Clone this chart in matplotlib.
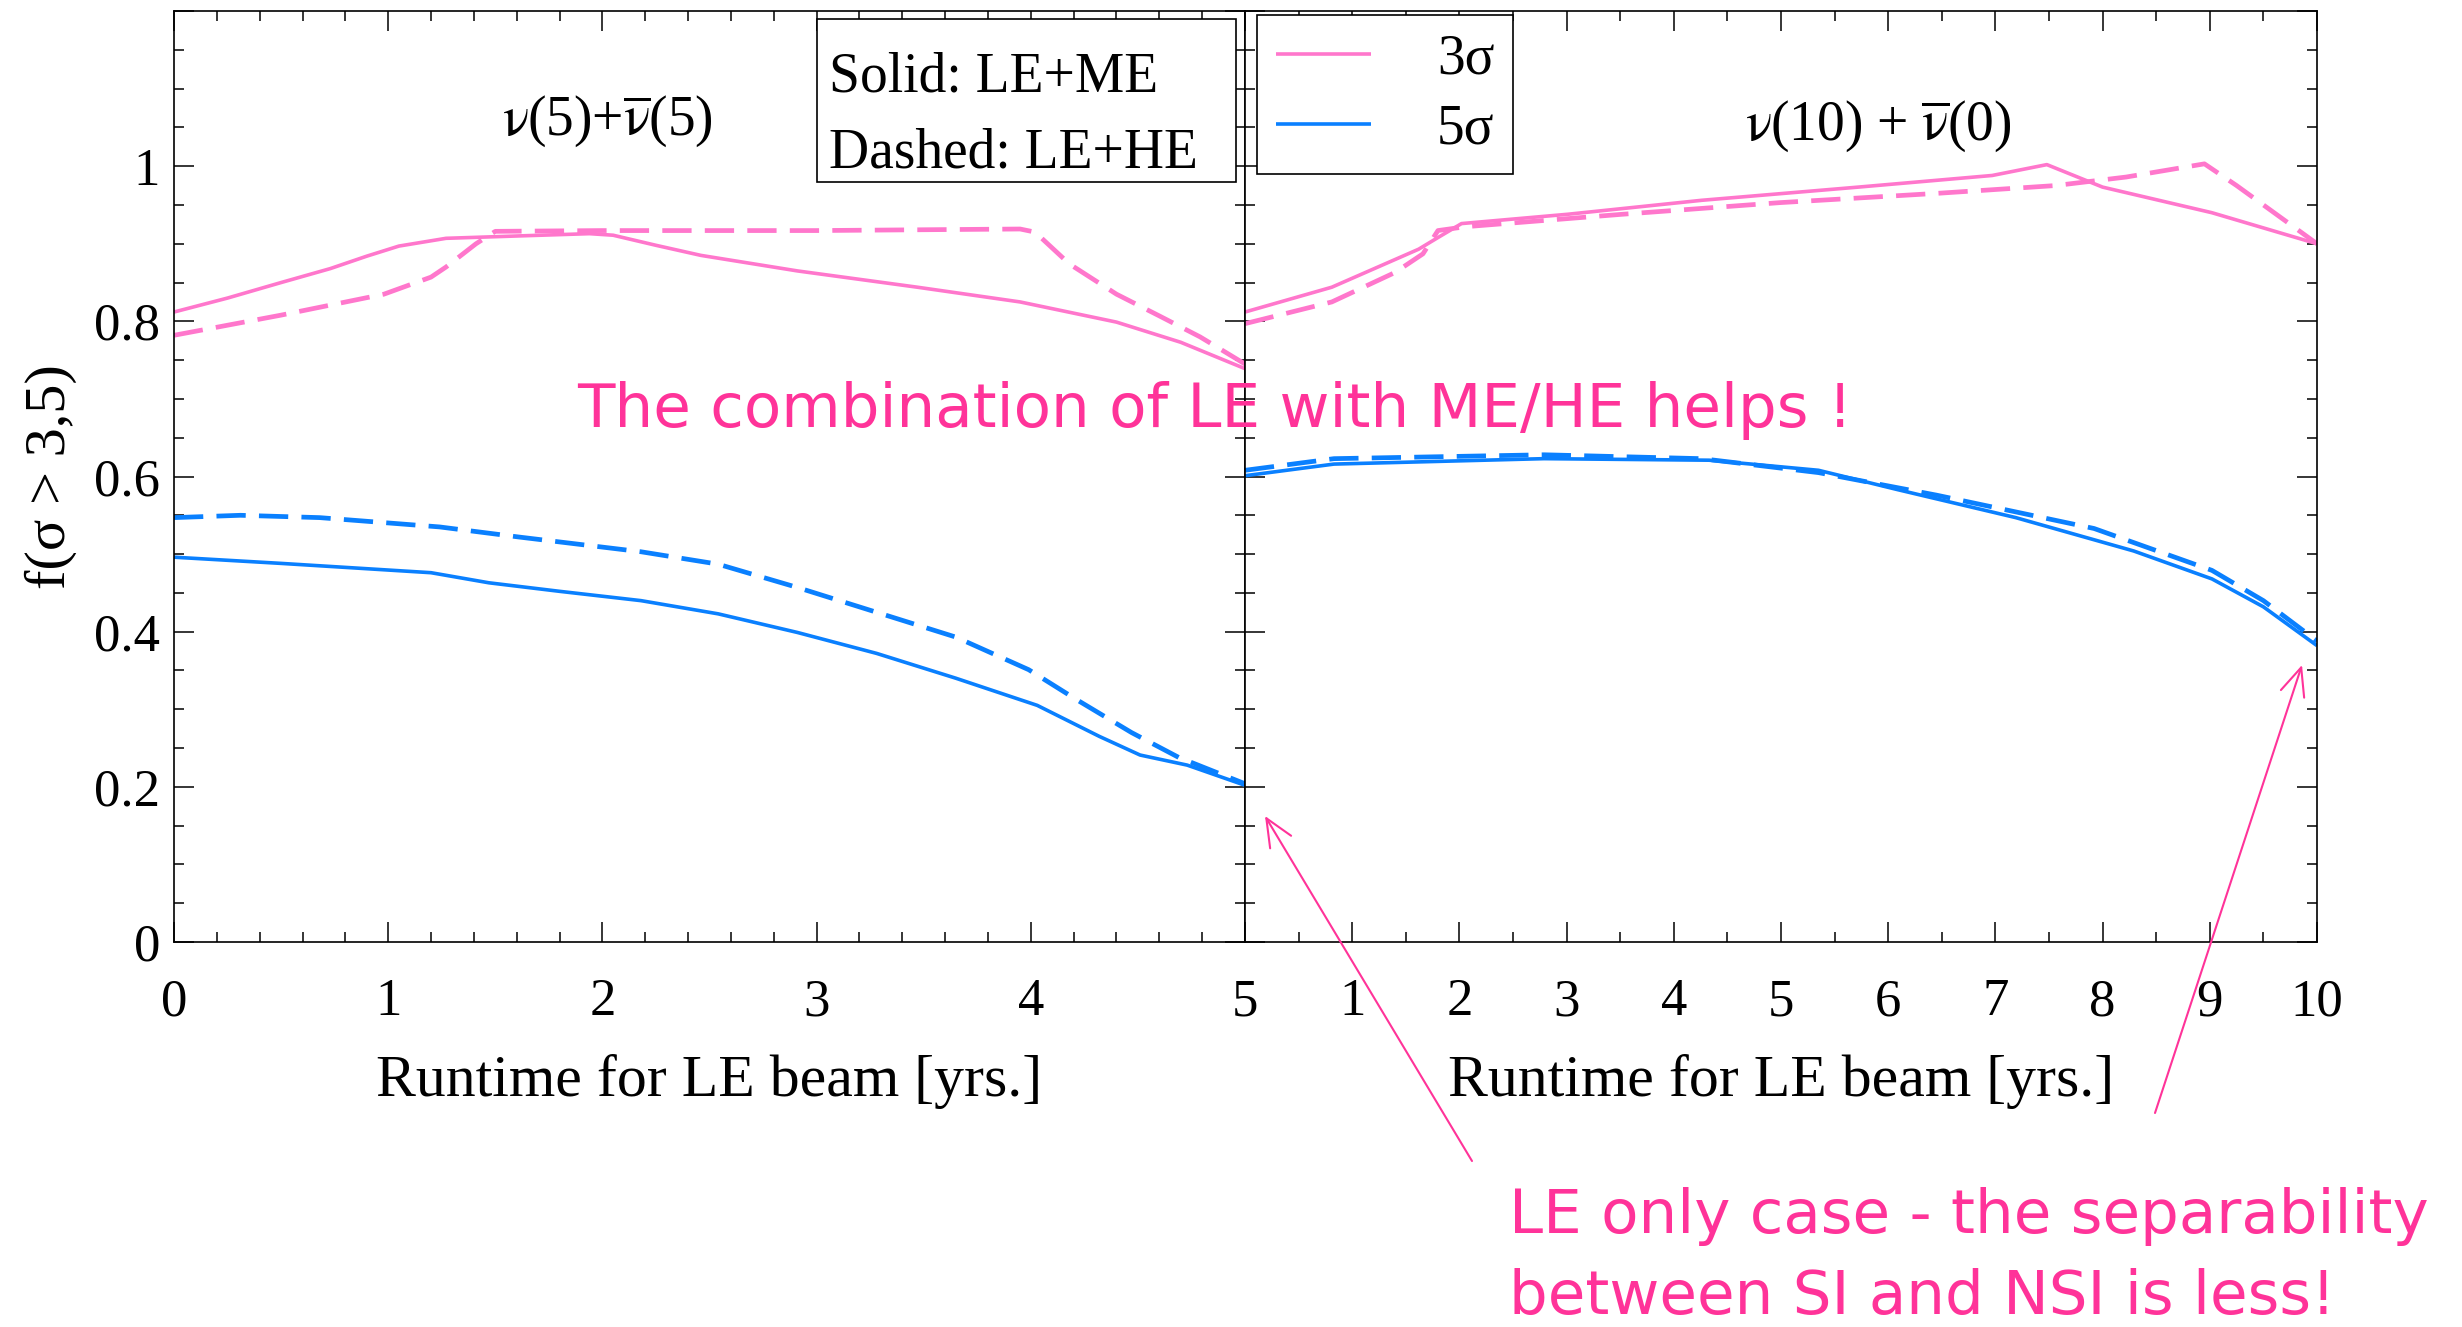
import matplotlib
matplotlib.use("Agg")
import matplotlib.pyplot as plt
from matplotlib.ticker import FixedLocator, MultipleLocator
from matplotlib.patches import Rectangle, FancyArrowPatch

plt.rcParams['font.family'] = ['Liberation Serif', 'DejaVu Serif']
plt.rcParams['mathtext.fontset'] = 'stix'

# ---- data: nu(5)+nubar(5) panel (runtime for LE beam, years) ----
left_x_3s_solid = [0, 0.25, 0.5, 0.73, 0.9, 1.05, 1.27, 1.6, 1.94, 2.05, 2.25, 2.46, 2.91, 3.47, 3.95, 4.40, 4.70, 5.0]
left_y_3s_solid = [0.812, 0.830, 0.850, 0.868, 0.884, 0.897, 0.907, 0.910, 0.913, 0.911, 0.898, 0.885, 0.865, 0.844, 0.825, 0.799, 0.773, 0.739]
left_x_3s_dash = [0, 0.5, 0.98, 1.2, 1.27, 1.41, 1.5, 2.0, 3.0, 3.95, 4.02, 4.18, 4.40, 4.60, 4.79, 5.0]
left_y_3s_dash = [0.782, 0.808, 0.835, 0.857, 0.870, 0.900, 0.916, 0.917, 0.917, 0.919, 0.915, 0.874, 0.835, 0.807, 0.780, 0.745]
left_x_5s_solid = [0, 0.5, 1.2, 1.47, 1.8, 2.18, 2.54, 2.91, 3.28, 3.65, 4.03, 4.32, 4.51, 4.73, 5.0]
left_y_5s_solid = [0.496, 0.488, 0.476, 0.463, 0.452, 0.440, 0.423, 0.399, 0.372, 0.340, 0.305, 0.265, 0.241, 0.228, 0.202]
left_x_5s_dash = [0, 0.31, 0.68, 1.24, 1.61, 2.18, 2.54, 2.91, 3.28, 3.65, 3.99, 4.21, 4.47, 4.69, 5.0]
left_y_5s_dash = [0.547, 0.550, 0.547, 0.535, 0.522, 0.503, 0.487, 0.457, 0.425, 0.393, 0.351, 0.313, 0.270, 0.238, 0.204]

# ---- data: nu(10)+nubar(0) panel ----
right_x_3s_solid = [0, 0.81, 1.62, 1.80, 2.02, 3.01, 4.26, 5.72, 6.97, 7.48, 8.0, 9.02, 10.0]
right_y_3s_solid = [0.812, 0.844, 0.893, 0.908, 0.926, 0.938, 0.956, 0.973, 0.988, 1.002, 0.973, 0.940, 0.900]
right_x_3s_dash = [0, 0.81, 1.40, 1.66, 1.80, 2.06, 3.52, 4.99, 6.46, 7.56, 8.22, 8.95, 9.25, 9.62, 10.0]
right_y_3s_dash = [0.797, 0.825, 0.863, 0.887, 0.917, 0.922, 0.938, 0.953, 0.965, 0.975, 0.986, 1.003, 0.975, 0.938, 0.900]
right_x_5s_solid = [0, 0.83, 2.79, 4.33, 5.35, 6.09, 7.19, 8.29, 9.02, 9.5, 10.0]
right_y_5s_solid = [0.601, 0.616, 0.623, 0.621, 0.608, 0.583, 0.547, 0.504, 0.468, 0.432, 0.382]
right_x_5s_dash = [0, 0.83, 2.79, 4.26, 5.35, 6.45, 7.92, 9.02, 9.5, 10.0]
right_y_5s_dash = [0.608, 0.623, 0.628, 0.623, 0.605, 0.576, 0.533, 0.479, 0.440, 0.388]

# ---- ticks and labels ----
y_ticks = [0, 0.2, 0.4, 0.6, 0.8, 1.0, 1.2]
y_tick_labels = ['0', '0.2', '0.4', '0.6', '0.8', '1', '']
left_x_ticks = [0, 1, 2, 3, 4, 5]
left_x_tick_labels = ['0', '1', '2', '3', '4', '5']
right_x_ticks = [0, 1, 2, 3, 4, 5, 6, 7, 8, 9, 10]
right_x_tick_labels = ['', '1', '2', '3', '4', '5', '6', '7', '8', '9', '10']
legend_labels = ['3σ', '5σ']

PINK = '#FF77CC'
BLUE = '#0A80FF'
NOTE = '#FF3399'

W, H = 2462, 1327
fig = plt.figure(figsize=(W / 100, H / 100), dpi=100)


def fx(px):
    return px / W


def fy(py):
    return 1 - py / H


axL = fig.add_axes([fx(174), fy(942), fx(1245) - fx(174), fy(11) - fy(942)])
axR = fig.add_axes([fx(1245), fy(942), fx(2317) - fx(1245), fy(11) - fy(942)])

solid_kw = dict(lw=2.6, solid_capstyle='butt', solid_joinstyle='round')
dash_kw = dict(lw=3.4, linestyle=(0, (6.2, 2.8)))

axL.plot(left_x_3s_solid, left_y_3s_solid, color=PINK, **solid_kw)
axL.plot(left_x_3s_dash, left_y_3s_dash, color=PINK, **dash_kw)
axL.plot(left_x_5s_solid, left_y_5s_solid, color=BLUE, **solid_kw)
axL.plot(left_x_5s_dash, left_y_5s_dash, color=BLUE, **dash_kw)

h3, = axR.plot(right_x_3s_solid, right_y_3s_solid, color=PINK, **solid_kw)
axR.plot(right_x_3s_dash, right_y_3s_dash, color=PINK, **dash_kw)
h5, = axR.plot(right_x_5s_solid, right_y_5s_solid, color=BLUE, **solid_kw)
axR.plot(right_x_5s_dash, right_y_5s_dash, color=BLUE, **dash_kw)

for ax, xt, xtl, xmax in [(axL, left_x_ticks, left_x_tick_labels, 5),
                           (axR, right_x_ticks, right_x_tick_labels, 10)]:
    ax.set_xlim(0, xmax)
    ax.set_ylim(0, 1.2)
    ax.xaxis.set_major_locator(FixedLocator(xt))
    ax.set_xticklabels(xtl)
    ax.xaxis.set_minor_locator(MultipleLocator(0.2 if xmax == 5 else 0.5))
    ax.yaxis.set_major_locator(FixedLocator(y_ticks))
    ax.yaxis.set_minor_locator(MultipleLocator(0.05))
    ax.tick_params(which='both', direction='in', top=True, right=True,
                   width=1.1, color='black')
    ax.tick_params(which='major', length=14.5)
    ax.tick_params(which='minor', length=7.2)
    ax.tick_params(axis='x', which='major', labelsize=38, pad=26)
    ax.tick_params(axis='y', which='major', labelsize=38, pad=10)
    for sp in ax.spines.values():
        sp.set_linewidth(1.2)
    ax.set_xlabel('Runtime for LE beam [yrs.]', fontsize=43, labelpad=20)

axL.set_yticklabels(y_tick_labels)
axR.tick_params(axis='y', labelleft=False)
axL.set_ylabel('f(σ > 3,5)', fontsize=42, labelpad=12)

# panel titles
axL.text(fx(607), fy(135), r'$\mathrm{\nu}$(5)+$\overline{\mathrm{\nu}}$(5)',
         transform=fig.transFigure, ha='center', va='baseline', fontsize=40)
axR.text(fx(1878), fy(140), r'$\mathrm{\nu}$(10) + $\overline{\mathrm{\nu}}$(0)',
         transform=fig.transFigure, ha='center', va='baseline', fontsize=40)

# line-style key
fig.patches.append(Rectangle((fx(817), fy(182)), fx(1236) - fx(817), (182 - 19) / H,
                             transform=fig.transFigure, facecolor='white',
                             edgecolor='black', lw=1.2, zorder=5))
fig.text(fx(829), fy(92), 'Solid: LE+ME', fontsize=40, va='baseline', zorder=6)
fig.text(fx(829), fy(168), 'Dashed: LE+HE', fontsize=40, va='baseline', zorder=6)

# significance legend
leg = axR.legend([h3, h5], legend_labels, loc='upper left',
                 bbox_to_anchor=(fx(1257), fy(15)), bbox_transform=fig.transFigure,
                 fontsize=40, handlelength=1.72, handletextpad=1.18,
                 borderpad=0.34, labelspacing=0.31, borderaxespad=0,
                 fancybox=False, framealpha=1, edgecolor='black')
leg.get_frame().set_linewidth(1.2)

# annotations
fig.text(fx(577), fy(427), 'The combination of LE with ME/HE helps !',
         family='DejaVu Sans', fontsize=44, color=NOTE, va='baseline')
fig.text(fx(1509), fy(1233), 'LE only case - the separability',
         family='DejaVu Sans', fontsize=44, color=NOTE, va='baseline')
fig.text(fx(1509), fy(1314), 'between SI and NSI is less!',
         family='DejaVu Sans', fontsize=44, color=NOTE, va='baseline')

arrow_kw = dict(arrowstyle='->,head_length=0.5,head_width=0.22', color=NOTE,
                lw=1.5, mutation_scale=40, shrinkA=0, shrinkB=0)
fig.add_artist(FancyArrowPatch(
    (fx(1472), fy(1161)), (fx(1265), fy(816)), transform=fig.transFigure, **arrow_kw))
fig.add_artist(FancyArrowPatch(
    (fx(2155), fy(1113)), (fx(2302), fy(665)), transform=fig.transFigure, **arrow_kw))

fig.savefig('out.png', dpi=100)
